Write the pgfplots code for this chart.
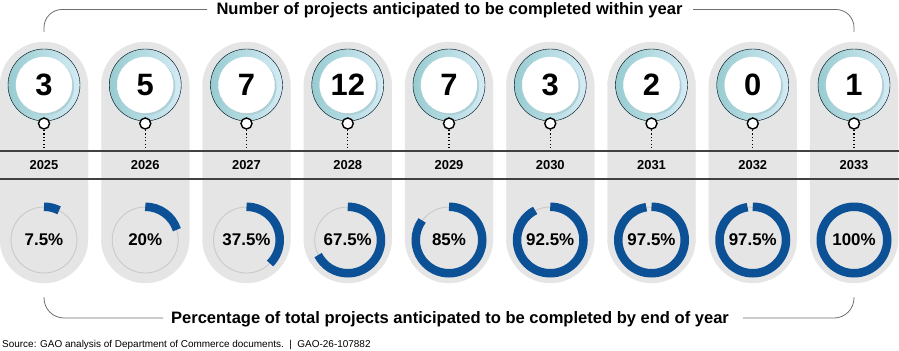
\documentclass[border=0pt]{standalone}
\usepackage{pgfplots}
\pgfplotsset{compat=1.18}
\usepackage{pgfplotstable}
\usepackage{fontspec}
\setmainfont{Liberation Sans}
\pgfkeys{/pgf/number format/assume math mode=true}
\definecolor{pill}{RGB}{229,229,229}
\definecolor{ringL}{RGB}{152,204,209}
\definecolor{ringR}{RGB}{212,235,245}
\definecolor{shadowc}{RGB}{172,206,212}
\definecolor{gaoblue}{RGB}{12,80,150}
\definecolor{bggray}{RGB}{202,202,202}
\definecolor{rulec}{RGB}{65,65,65}
\definecolor{brk}{RGB}{110,110,110}
\pgfdeclareplotmark{blankmark}{}

\pgfplotstableread{
pos year count pct
0 2025 3 7.5
1 2026 5 20
2 2027 7 37.5
3 2028 12 67.5
4 2029 7 85
5 2030 3 92.5
6 2031 2 97.5
7 2032 0 97.5
8 2033 1 100
}\projdata

\begin{document}
\begin{tikzpicture}
\begin{axis}[
  scale only axis, width=899bp, height=351bp,
  xmin=0, xmax=899, ymin=0, ymax=351, y dir=reverse,
  hide axis, clip=false]
\coordinate (bl) at (axis cs:0,351);
\coordinate (tr) at (axis cs:899,0);
% pills
\addplot[scatter, only marks, mark=blankmark, point meta=\thisrow{count},
  scatter/@pre marker code/.code={%
    \fill[pill, rounded corners=44bp] (-44bp,-283bp) rectangle (44bp,-42bp);
  },
  scatter/@post marker code/.code={}]
  table[x expr=44+101.25*\thisrow{pos}, y expr=0] {\projdata};
% column content (rules drawn per column so they lie over the pills)
\addplot[scatter, only marks, mark=blankmark, point meta=\thisrow{count},
  visualization depends on={\thisrow{count} \as \cnt},
  visualization depends on={\thisrow{pct} \as \pct},
  visualization depends on={\thisrow{year} \as \yr},
  scatter/@pre marker code/.code={%
    \draw[rulec, line width=1.8bp] (-50.8bp,-151bp) -- (50.8bp,-151bp);
    \draw[rulec, line width=1.3bp] (-50.8bp,-179bp) -- (50.8bp,-179bp);
    \fill[ringR!50!pill] (0,-85bp) circle (37.5bp);
    \shade[left color=ringL, right color=ringR] (0,-85bp) circle (36bp);
    \fill[shadowc] (1.5bp,-86.5bp) circle (28.2bp);
    \fill[white] (0,-85bp) circle (28bp);
    \node[font=\fontsize{31}{31}\selectfont\bfseries] at (0,-85bp) {\pgfmathprintnumber[fixed,precision=0]{\cnt}};
    \draw[black, line width=1.2bp, dash pattern=on 1.2bp off 2.2bp] (0,-130bp) -- (0,-150bp);
    \draw[black, line width=1.4bp, fill=white] (0,-123.5bp) circle (5.5bp);
    \node[font=\fontsize{13}{13}\selectfont\bfseries] at (0,-165bp) {\pgfmathprintnumber[fixed,precision=0,1000 sep={}]{\yr}};
    \draw[bggray, line width=0.9bp] (0,-240bp) circle (33bp);
    \draw[gaoblue, line width=8.5bp] ([shift={(0,-240bp)}]90:33.25bp) arc[start angle=90, delta angle=-3.6*\pct, radius=33.25bp];
    \node[font=\fontsize{17}{17}\selectfont\bfseries] at (0,-240bp) {\pgfmathprintnumber[fixed,precision=1]{\pct}\%};
  },
  scatter/@post marker code/.code={}]
  table[x expr=44+101.25*\thisrow{pos}, y expr=0] {\projdata};
% brackets
\draw[brk, line width=0.8bp, rounded corners=18bp] (axis cs:44,32) -- (axis cs:44,9.5) -- (axis cs:207,9.5);
\draw[brk, line width=0.8bp, rounded corners=18bp] (axis cs:693,9.5) -- (axis cs:854,9.5) -- (axis cs:854,32);
\draw[brk, line width=0.8bp, rounded corners=20bp] (axis cs:44,297) -- (axis cs:44,318) -- (axis cs:163,318);
\draw[brk, line width=0.8bp, rounded corners=20bp] (axis cs:743,318) -- (axis cs:854,318) -- (axis cs:854,297);
% titles
\node[anchor=base, font=\fontsize{16.6}{16.6}\selectfont\bfseries] at (axis cs:449.5,14.5) {Number of projects anticipated to be completed within year};
\node[anchor=base, font=\fontsize{16.6}{16.6}\selectfont\bfseries] at (axis cs:450,323.5) {Percentage of total projects anticipated to be completed by end of year};
\node[anchor=base west, inner sep=0pt, font=\fontsize{10}{10}\selectfont] at (axis cs:2,347.5) {Source: GAO analysis of Department of Commerce documents.\ \ |\ \ GAO-26-107882};
\end{axis}
\pgfresetboundingbox
\path[use as bounding box] (bl) rectangle (tr);
\end{tikzpicture}
\end{document}
